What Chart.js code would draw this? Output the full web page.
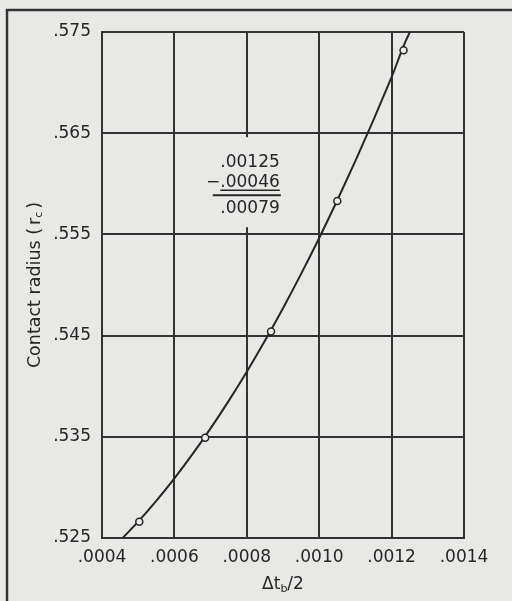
<!DOCTYPE html>
<html><head><meta charset="utf-8">
<script src="https://cdn.jsdelivr.net/npm/chart.js@4.4.1/dist/chart.umd.min.js"></script>
<style>
html,body{margin:0;padding:0;background:#e8e8e6;}
canvas{display:block;}
</style></head><body>
<canvas id="c" width="512" height="601"></canvas>
<script>
// Curve readings (Δt_b/2 vs contact radius)
const curveX = [0.000457, 0.0005, 0.00055, 0.0006, 0.00065, 0.0007, 0.00075, 0.0008, 0.00085, 0.0009, 0.00095, 0.0010, 0.00105, 0.0011, 0.00115, 0.0012, 0.00125, 0.001252];
const curveY = [0.525, 0.52662, 0.52867, 0.53089, 0.53328, 0.53583, 0.53855, 0.54143, 0.54449, 0.54771, 0.5511, 0.55465, 0.55837, 0.56226, 0.56632, 0.57054, 0.57493, 0.575];
// Measured points (open circles)
const pointX = [0.000503, 0.000685, 0.000867, 0.00105, 0.001233];
const pointY = [0.5266, 0.5349, 0.5454, 0.5583, 0.5732];
// Tick values and labels
const xTickVals = [0.0004, 0.0006, 0.0008, 0.0010, 0.0012, 0.0014];
const xTickLabels = ['.0004', '.0006', '.0008', '.0010', '.0012', '.0014'];
const yTickVals = [0.525, 0.535, 0.545, 0.555, 0.565, 0.575];
const yTickLabels = ['.525', '.535', '.545', '.555', '.565', '.575'];
// Annotation (subtraction)
const sumLines = ['.00125', '.00046', '.00079'];

const INK = '#262626';
const BG = '#e8e8e6';
const FONT = 'DejaVu Sans';

const deco = {
  id: 'deco',
  beforeDraw(chart) {
    const ctx = chart.ctx;
    ctx.save();
    ctx.fillStyle = BG;
    ctx.fillRect(0, 0, chart.width, chart.height);
    ctx.strokeStyle = '#333';
    ctx.lineWidth = 2.5;
    ctx.beginPath();
    ctx.moveTo(7, chart.height + 2);
    ctx.lineTo(7, 10);
    ctx.lineTo(chart.width + 2, 10);
    ctx.stroke();
    ctx.restore();
  },
  beforeDatasetsDraw(chart) {
    const ctx = chart.ctx;
    const xs = chart.scales.x, ys = chart.scales.y;
    const cx = xs.getPixelForValue(0.0008);
    const ty = ys.getPixelForValue(0.565);
    ctx.save();
    ctx.fillStyle = BG;
    ctx.fillRect(cx - 42, ty + 4, 86, 90);
    ctx.fillStyle = INK;
    ctx.font = '17px "' + FONT + '"';
    ctx.textAlign = 'right';
    ctx.textBaseline = 'middle';
    const rx = cx + 33;
    ctx.fillText(sumLines[0], rx, ty + 29);
    ctx.fillText(sumLines[1], rx, ty + 49);
    ctx.fillText(sumLines[2], rx, ty + 75);
    const w1 = ctx.measureText(sumLines[1]).width;
    ctx.fillText('\u2212', rx - w1, ty + 49);
    ctx.strokeStyle = INK;
    ctx.lineWidth = 1.5;
    ctx.beginPath();
    ctx.moveTo(rx - w1, ty + 57); ctx.lineTo(rx, ty + 57);
    ctx.stroke();
    ctx.lineWidth = 2;
    ctx.beginPath();
    ctx.moveTo(rx - 67, ty + 62); ctx.lineTo(rx + 1, ty + 62);
    ctx.stroke();
    ctx.restore();
  },
  afterDraw(chart) {
    const ctx = chart.ctx;
    const a = chart.chartArea;
    ctx.save();
    ctx.fillStyle = INK;
    // x title: Δt_b/2
    ctx.textBaseline = 'alphabetic';
    ctx.textAlign = 'left';
    const big = '17px "' + FONT + '"', small = '11px "' + FONT + '"';
    ctx.font = big; const w1 = ctx.measureText('\u0394t').width; const w3 = ctx.measureText('/2').width;
    ctx.font = small; const w2 = ctx.measureText('b').width;
    let x0 = (a.left + a.right) / 2 - (w1 + w2 + w3) / 2;
    const by = 589;
    ctx.font = big; ctx.fillText('\u0394t', x0, by);
    ctx.font = small; ctx.fillText('b', x0 + w1, by + 3);
    ctx.font = big; ctx.fillText('/2', x0 + w1 + w2, by);
    // y title: Contact radius (r_c)
    ctx.translate(35, (a.top + a.bottom) / 2);
    ctx.rotate(-Math.PI / 2);
    const yb = '17.5px "' + FONT + '"', ys = '11px "' + FONT + '"';
    const t1 = 'Contact radius ', tp = '(', tr = 'r', t2 = 'c', t3 = ')';
    ctx.font = yb;
    const u1 = ctx.measureText(t1).width, up = ctx.measureText(tp).width, ur = ctx.measureText(tr).width, u3 = ctx.measureText(t3).width;
    ctx.font = ys; const u2 = ctx.measureText(t2).width;
    const g = 3;
    const total = u1 + up + g + ur + u2 + g + u3;
    let s = -total / 2;
    ctx.textBaseline = 'middle';
    ctx.font = yb; ctx.fillText(t1, s, 0); s += u1;
    ctx.fillText(tp, s, 0); s += up + g;
    ctx.fillText(tr, s, 0); s += ur;
    ctx.font = ys; ctx.fillText(t2, s, 4); s += u2 + g;
    ctx.font = yb; ctx.fillText(t3, s, 0);
    ctx.restore();
  }
};

new Chart(document.getElementById('c'), {
  type: 'scatter',
  data: {
    datasets: [
      {
        data: pointX.map((x, i) => ({ x, y: pointY[i] })),
        showLine: false,
        pointRadius: 3.5,
        pointBackgroundColor: '#eeeeec',
        pointBorderColor: INK,
        pointBorderWidth: 1.5
      },
      {
        data: curveX.map((x, i) => ({ x, y: curveY[i] })),
        showLine: true,
        borderColor: INK,
        borderWidth: 2,
        pointRadius: 0,
        cubicInterpolationMode: 'monotone',
        fill: false
      }
    ]
  },
  options: {
    responsive: false,
    animation: false,
    layout: { padding: { left: 0, right: 48, top: 32, bottom: 0 } },
    plugins: { legend: { display: false }, tooltip: { enabled: false } },
    scales: {
      x: {
        type: 'linear', min: 0.0004, max: 0.0014,
        afterBuildTicks: s => { s.ticks = xTickVals.map(v => ({ value: v })); },
        afterFit: s => { s.height = 63; },
        ticks: { callback: (v, i) => xTickLabels[i], padding: 9, color: INK, font: { family: FONT, size: 17 }, maxRotation: 0, autoSkip: false },
        grid: { color: '#333', lineWidth: 2, drawTicks: false },
        border: { display: true, color: '#333', width: 2 }
      },
      y: {
        type: 'linear', min: 0.525, max: 0.575,
        afterBuildTicks: s => { s.ticks = yTickVals.map(v => ({ value: v })); },
        afterFit: s => { s.width = 102; },
        ticks: { callback: (v, i) => yTickLabels[i], padding: 11, color: INK, font: { family: FONT, size: 17 }, autoSkip: false },
        grid: { color: '#333', lineWidth: 2, drawTicks: false },
        border: { display: true, color: '#333', width: 2 }
      }
    }
  },
  plugins: [deco]
});
</script>
</body></html>
